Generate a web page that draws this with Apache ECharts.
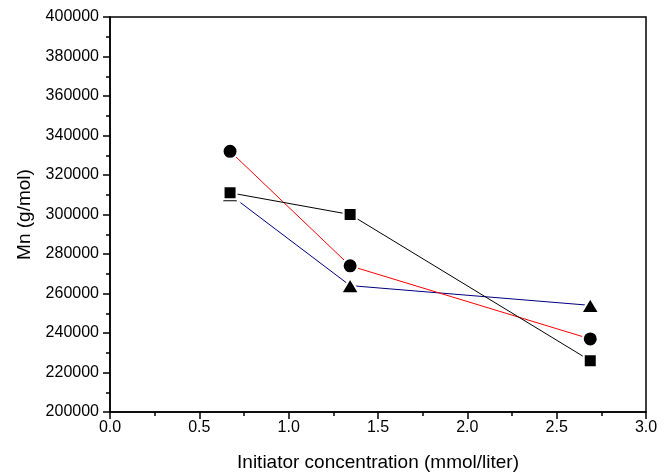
<!DOCTYPE html>
<html>
<head>
<meta charset="utf-8">
<script src="https://cdn.jsdelivr.net/npm/echarts@6/dist/echarts.min.js"></script>
<style>
  html, body { margin: 0; padding: 0; background: #fff; }
  #chart { width: 671px; height: 474px; }
</style>
</head>
<body>
<div id="chart"></div>
<script>
// initiator concentration (mmol/liter)
const conc = [0.672, 1.344, 2.688]

// Mn (g/mol) for each run
const squareMn = [311000, 300000, 226000]
const circleMn = [332000, 274000, 237000]
const triangleMn = [310000, 264000, 254000]

const font = 'Liberation Sans, Arial, sans-serif'

const chart = echarts.init(document.getElementById('chart'))

const toPairs = ys => ys.map((y, i) => [conc[i], y])

// one series per marker shape, white border gives the gap round the markers
function makeSeries(name, data, symbol, size, lineColor) {
  return {
    name,
    type: 'line',
    data: toPairs(data),
    symbol,
    symbolSize: size,
    showAllSymbol: true,
    lineStyle: { color: lineColor, width: 1 },
    itemStyle: { color: '#000', borderColor: '#fff', borderWidth: 2 },
    emphasis: { disabled: true },
    animation: false,
  }
}

const option = {
  backgroundColor: '#fff',
  grid: {
    left: 110,
    right: 25,
    top: 17,
    bottom: 62,
    outerBoundsMode: 'none',
    show: true,
    borderColor: '#000',
    borderWidth: 1.5,
  },
  xAxis: {
    type: 'value',
    min: 0,
    max: 3,
    interval: 0.5,
    name: 'Initiator concentration (mmol/liter)',
    nameLocation: 'middle',
    nameGap: 41,
    nameTextStyle: { color: '#000', fontSize: 19, fontFamily: font },
    axisLine: { lineStyle: { color: '#000', width: 1.5 } },
    axisTick: { inside: false, length: 7, lineStyle: { color: '#000', width: 1.5 } },
    minorTick: { show: true, splitNumber: 2, length: 4, lineStyle: { color: '#000', width: 1.5 } },
    axisLabel: {
      color: '#000',
      fontSize: 16,
      fontFamily: font,
      margin: 8,
      formatter: v => v.toFixed(1),
    },
    splitLine: { show: false },
  },
  yAxis: {
    type: 'value',
    min: 200000,
    max: 400000,
    interval: 20000,
    name: 'Mn (g/mol)',
    nameLocation: 'middle',
    nameGap: 75,
    nameTextStyle: { color: '#000', fontSize: 19, fontFamily: font },
    axisLine: { show: true, lineStyle: { color: '#000', width: 1.5 } },
    axisTick: { show: true, inside: false, length: 7, lineStyle: { color: '#000', width: 1.5 } },
    minorTick: { show: true, splitNumber: 2, length: 4, lineStyle: { color: '#000', width: 1.5 } },
    axisLabel: { color: '#000', fontSize: 16, fontFamily: font, margin: 11, formatter: v => String(v) },
    splitLine: { show: false },
  },
  series: [
    makeSeries('triangle', triangleMn, 'triangle', [18, 15], '#00007f'),
    makeSeries('circle', circleMn, 'circle', 15, '#ff0000'),
    makeSeries('square', squareMn, 'rect', 13, '#000'),
  ],
}

chart.setOption(option)
</script>
</body>
</html>
